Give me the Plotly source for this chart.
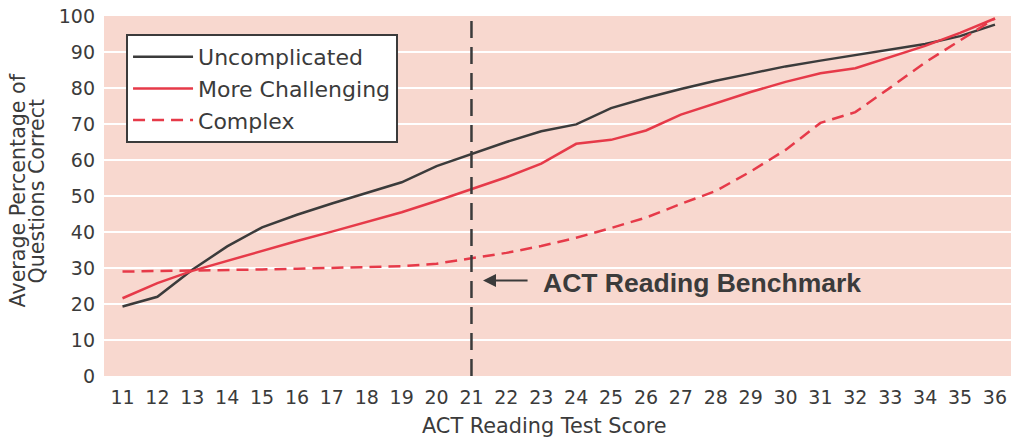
import plotly.graph_objects as go

scores = list(range(11, 37))
uncomplicated = [19.3, 22.0, 29.5, 36.0, 41.3, 44.8, 47.9, 50.8, 53.8, 58.3, 61.6,
                 65.0, 68.0, 69.9, 74.4, 77.2, 79.7, 82.0, 84.0, 86.0, 87.6, 89.1,
                 90.6, 92.2, 94.4, 97.6]
more_challenging = [21.6, 25.8, 29.2, 32.0, 34.7, 37.5, 40.1, 42.7, 45.5, 48.6, 51.8,
                    55.2, 59.0, 64.5, 65.6, 68.2, 72.6, 75.8, 78.9, 81.7, 84.1, 85.5,
                    88.5, 91.7, 95.3, 99.3]
complex_ = [29.0, 29.1, 29.3, 29.5, 29.6, 29.8, 30.0, 30.2, 30.5, 31.2, 32.6,
            34.2, 36.1, 38.4, 41.1, 44.0, 47.8, 51.4, 56.8, 62.8, 70.3, 73.3,
            80.1, 87.1, 93.2, 99.3]

benchmark = 21
y_ticks = list(range(0, 101, 10))
x_title = "ACT Reading Test Score"
y_title_lines = ["Average Percentage of", "Questions Correct"]
bench_label = "ACT Reading Benchmark"

DARK = "#3b3b3b"
RED = "#e63a49"
PINK = "#f8d8cf"
FONT = "DejaVu Sans, sans-serif"
BOLD_FONT = "Liberation Sans, Arial, sans-serif"

fig = go.Figure()
fig.add_trace(go.Scatter(x=scores, y=uncomplicated, mode="lines", name="Uncomplicated",
                         line=dict(color=DARK, width=2.5)))
fig.add_trace(go.Scatter(x=scores, y=more_challenging, mode="lines", name="More Challenging",
                         line=dict(color=RED, width=2.5)))
fig.add_trace(go.Scatter(x=scores, y=complex_, mode="lines", name="Complex",
                         line=dict(color=RED, width=2.5, dash="12px,7px")))

fig.add_shape(type="line", x0=benchmark, x1=benchmark, y0=0, y1=100, xref="x", yref="y",
              line=dict(color=DARK, width=2.5, dash="17px,9px"))

fig.add_annotation(x=21.33, y=26.5, ax=22.65, ay=26.5, xref="x", yref="y", axref="x", ayref="y",
                   text="", showarrow=True, arrowhead=2, arrowsize=1.3, arrowwidth=2, arrowcolor=DARK)
fig.add_annotation(x=23.0, y=25.8, xref="x", yref="y", text=bench_label, showarrow=False,
                   xanchor="left", yanchor="middle",
                   font=dict(family=BOLD_FONT, size=26.5, color=DARK, weight="bold"))

fig.add_annotation(x=-0.095, y=0.515, xref="paper", yref="paper", text=y_title_lines[0],
                   textangle=-90, showarrow=False, xanchor="center", yanchor="middle",
                   font=dict(family=FONT, size=20.6, color=DARK))
fig.add_annotation(x=-0.074, y=0.515, xref="paper", yref="paper", text=y_title_lines[1],
                   textangle=-90, showarrow=False, xanchor="center", yanchor="middle",
                   font=dict(family=FONT, size=20.6, color=DARK))
fig.add_annotation(x=0.4857, y=-0.138, xref="paper", yref="paper", text=x_title,
                   showarrow=False, xanchor="center", yanchor="middle",
                   font=dict(family=FONT, size=20.8, color=DARK))

fig.update_layout(
    width=1011, height=440,
    margin=dict(l=104, r=0, t=16, b=64),
    paper_bgcolor="white", plot_bgcolor=PINK,
    font=dict(family=FONT, color=DARK),
    showlegend=True,
    legend=dict(x=0.0243, y=0.95, xanchor="left", yanchor="top",
                bgcolor="white", bordercolor=DARK, borderwidth=2,
                font=dict(family=FONT, size=22, color=DARK),
                itemwidth=60, tracegroupgap=0),
    xaxis=dict(range=[10.47, 36.46], tickvals=scores, showgrid=False, zeroline=False,
               showline=False, ticks="", ticklabelstandoff=8,
               tickfont=dict(family=FONT, size=19, color=DARK), fixedrange=True),
    yaxis=dict(range=[0, 100], tickvals=y_ticks, showgrid=True, gridcolor="white", gridwidth=2,
               zeroline=False, showline=False, ticks="", ticklabelstandoff=8,
               tickfont=dict(family=FONT, size=19, color=DARK), fixedrange=True),
)

fig.write_html("out.html", config={"displayModeBar": False},
               post_script="document.body.style.margin='0';document.body.style.overflow='hidden';")
